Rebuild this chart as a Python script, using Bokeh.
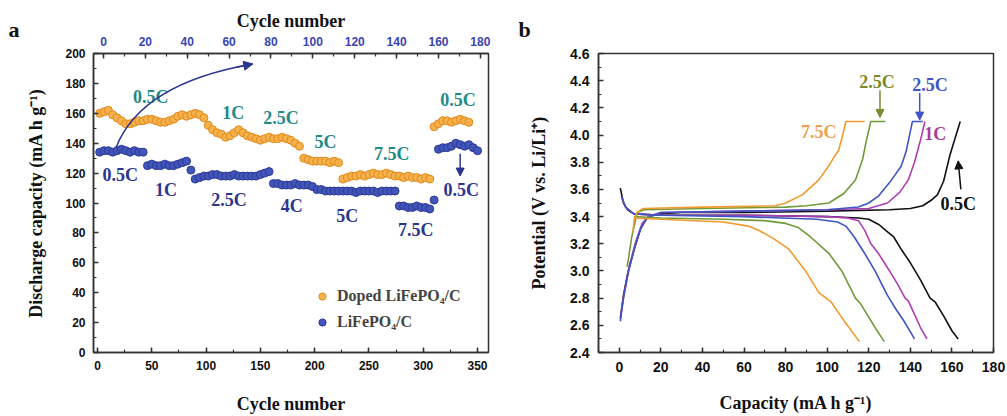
from bokeh.plotting import figure
from bokeh.layouts import row
from bokeh.models import (Range1d, LinearAxis, SingleIntervalTicker, FixedTicker, Arrow, NormalHead,
                          Legend, LegendItem, Title, NumeralTickFormatter)
from bokeh.core.properties import value
from bokeh.embed import file_html
from bokeh.resources import INLINE

SERIF = "Liberation Serif"
SANS = "Liberation Sans"

# ---------------- Panel a data (rate capability) ----------------
# points every 4 units of the bottom "Cycle number" axis, starting at 2
doped_y = [160, 161, 162, 159, 157, 155, 153, 153, 154, 155,
           155, 156, 156, 155, 154, 154, 155, 156, 158, 159,
           158, 159, 160, 159, 157, 152, 149, 147, 146, 144,
           145, 147, 149, 147, 145, 144, 143, 142, 143, 144,
           143, 143, 144, 143, 142, 140, 138,
           130, 129, 128, 128, 128, 128, 127, 128, 127,
           116, 117, 118, 118, 119, 118, 119, 120, 119, 119,
           120, 119, 118, 118, 117, 118, 117, 117, 116, 117, 116,
           151, 153, 155, 155, 154, 155, 156, 155, 154]
plain_y = [134, 135, 135, 134, 135, 136, 135, 134, 135, 134, 134,
           125, 126, 125, 125, 126, 125, 125, 126, 127, 128, 122,
           116, 117, 118, 118, 119, 119, 118, 118, 118, 119, 118, 118, 118, 118, 118, 119, 120, 121,
           113, 113, 112, 112, 112, 113, 112, 112, 112, 111,
           109, 109, 108, 108, 108, 108, 108, 108, 108, 107, 108, 108, 108, 108, 107, 108, 108, 108, 108,
           98, 98, 97, 97, 98, 97, 97, 96, 102,
           136, 137, 137, 138, 140, 139, 138, 139, 137, 135]
doped_x = list(range(2, 2 + 4 * len(doped_y), 4))
plain_x = list(range(2, 2 + 4 * len(plain_y), 4))

teal_labels = ["0.5C", "1C", "2.5C", "5C", "7.5C", "0.5C"]
teal_x = [49, 125, 169, 210, 271, 332]
teal_y = [171, 160, 157, 141, 133, 169]
navy_labels = ["0.5C", "1C", "2.5C", "4C", "5C", "7.5C", "0.5C"]
navy_x = [21, 63, 121, 179, 230, 293, 335]
navy_y = [119, 109, 102, 98, 91, 82, 109]

# ---------------- Panel b data (charge/discharge curves) ----------------
ch05_x = [0.5, 2, 4, 7, 10, 13, 18, 30, 60, 100, 130, 140, 146, 150, 153, 156, 159, 161, 164]
ch05_y = [2.65, 2.82, 2.98, 3.15, 3.30, 3.39, 3.42, 3.43, 3.43, 3.44, 3.45, 3.46, 3.48, 3.52, 3.56, 3.66, 3.85, 3.95, 4.10]
dis05_x = [0.5, 2, 4, 7, 20, 60, 100, 115, 120, 125, 128, 132, 136, 140, 145, 149.5, 152, 156, 160, 163]
dis05_y = [3.61, 3.50, 3.45, 3.42, 3.41, 3.41, 3.40, 3.39, 3.38, 3.34, 3.30, 3.25, 3.15, 3.06, 2.93, 2.80, 2.77, 2.67, 2.56, 2.50]

ch1_x = [0.8, 2.5, 5, 8, 11, 14, 20, 60, 100, 120, 129, 135, 139, 142, 145, 147]
ch1_y = [2.68, 2.85, 3.05, 3.22, 3.35, 3.40, 3.43, 3.44, 3.45, 3.46, 3.50, 3.58, 3.67, 3.80, 3.97, 4.10]
dis1_x = [1, 3, 7, 20, 60, 100, 110, 115, 118, 121, 124.6, 130, 134, 137.5, 139, 142, 145, 148]
dis1_y = [3.55, 3.47, 3.42, 3.41, 3.41, 3.40, 3.39, 3.37, 3.30, 3.20, 3.13, 3.00, 2.90, 2.80, 2.78, 2.68, 2.58, 2.50]

ch25b_x = [0.5, 2, 4.5, 7.5, 10.5, 13.5, 20, 60, 100, 115, 120, 124.6, 130, 135.6, 138, 141, 146]
ch25b_y = [2.63, 2.80, 3.00, 3.18, 3.32, 3.39, 3.43, 3.44, 3.45, 3.47, 3.50, 3.55, 3.65, 3.77, 3.88, 4.10, 4.10]
dis25b_x = [1, 3, 7, 20, 60, 95, 105, 109, 113, 118, 123, 129, 133, 137, 142]
dis25b_y = [3.55, 3.47, 3.42, 3.41, 3.40, 3.38, 3.36, 3.33, 3.25, 3.13, 3.00, 2.82, 2.72, 2.63, 2.50]

ch25g_x = [3.8, 6, 8.6, 12, 40, 80, 90, 100.8, 108, 113.6, 117, 119, 121, 128]
ch25g_y = [3.03, 3.25, 3.43, 3.45, 3.46, 3.47, 3.48, 3.50, 3.57, 3.67, 3.82, 3.97, 4.10, 4.10]
dis25g_x = [7, 20, 50, 70, 80, 86, 92, 100.8, 107, 113.6, 116, 120, 124, 127.5]
dis25g_y = [3.40, 3.39, 3.38, 3.37, 3.35, 3.32, 3.25, 3.13, 3.00, 2.80, 2.76, 2.66, 2.56, 2.48]

ch75_x = [6.5, 7.2, 8.5, 11.5, 40, 75, 80, 88, 96, 101, 105.5, 107.5, 109, 118]
ch75_y = [3.28, 3.38, 3.43, 3.46, 3.47, 3.48, 3.50, 3.56, 3.67, 3.78, 3.89, 4.00, 4.10, 4.10]
dis75_x = [7, 20, 50, 62, 67, 74, 81.6, 89.6, 96, 102, 108.7, 115.5]
dis75_y = [3.39, 3.38, 3.36, 3.33, 3.30, 3.24, 3.16, 3.00, 2.84, 2.77, 2.62, 2.48]

rate_labels = ["7.5C", "2.5C", "2.5C", "1C", "0.5C"]
rate_x = [96, 124, 149.5, 152, 163]
rate_y = [4.025, 4.39, 4.37, 4.01, 3.49]

potential_ticks = [2.4, 2.6, 2.8, 3.0, 3.2, 3.4, 3.6, 3.8, 4.0, 4.2, 4.4, 4.6]
potential_minor = [2.5, 2.7, 2.9, 3.1, 3.3, 3.5, 3.7, 3.9, 4.1, 4.3, 4.5]

panel_letters = ["a", "b"]

C_ORANGE = "#f29a2e"
C_GREEN = "#6f9a3a"
C_BLUE = "#3f55c4"
C_MAG = "#b03cb4"
C_BLACK = "#111111"
rate_colors = ["#f0a04b", "#7b8a2e", C_BLUE, "#a83c9c", C_BLACK]

TEAL = "#1d8b86"
NAVY = "#2b3590"


def style_axis(ax, size, color="#111111"):
    ax.major_label_text_font = SANS
    ax.major_label_text_font_style = "bold"
    ax.major_label_text_font_size = size
    ax.major_label_text_color = color
    ax.axis_label_text_font = SERIF
    ax.axis_label_text_font_style = "bold"
    ax.axis_label_text_font_size = "18px"
    ax.axis_label_text_color = "#111111"
    ax.major_tick_in = 5
    ax.major_tick_out = 0
    ax.minor_tick_in = 3
    ax.minor_tick_out = 0
    ax.axis_line_color = "#333333"
    ax.axis_line_width = 1.5
    ax.major_tick_line_color = "#333333"
    ax.minor_tick_line_color = "#333333"
    ax.major_tick_line_width = 1.5
    ax.minor_tick_line_width = 1.2


def panel_title(letter, offset):
    return Title(text=letter, align="left", offset=offset, standoff=23,
                 text_font=SERIF, text_font_style="bold", text_font_size="22px",
                 text_color="#111111")


# ---------------- narrow strip carrying the panel letter "a" ----------------
pa = figure(width=22, height=416, x_range=Range1d(0, 1), y_range=Range1d(0, 1),
            output_backend="svg", toolbar_location=None,
            min_border_left=0, min_border_right=0, min_border_top=53, min_border_bottom=63)
pa.axis.visible = False
pa.xgrid.visible = False
pa.ygrid.visible = False
pa.outline_line_color = None
pa.add_layout(panel_title(panel_letters[0], 8), "above")

# ---------------- Panel a ----------------
p1 = figure(width=488, height=416, x_range=Range1d(-3.7, 360.1), y_range=Range1d(0, 200),
            output_backend="svg", toolbar_location=None,
            min_border_left=71, min_border_right=22, min_border_top=53, min_border_bottom=63)
p1.xgrid.visible = False
p1.ygrid.visible = False
p1.outline_line_color = "#333333"
p1.outline_line_width = 1.5
p1.xaxis.ticker = SingleIntervalTicker(interval=50, num_minor_ticks=2)
p1.yaxis.ticker = SingleIntervalTicker(interval=20, num_minor_ticks=2)
p1.xaxis.axis_label = "Cycle number"
p1.yaxis.axis_label = "Discharge capacity (mA h g\u207b\u00b9)"
for ax in p1.xaxis + p1.yaxis:
    style_axis(ax, "12px")
p1.xaxis.major_label_standoff = 8
p1.xaxis.axis_label_standoff = 21
p1.yaxis.major_label_standoff = 8
p1.yaxis.axis_label_standoff = 16

p1.extra_x_ranges = {"top": Range1d(-4.78, 183.9)}
top_ax = LinearAxis(x_range_name="top", ticker=SingleIntervalTicker(interval=20, num_minor_ticks=2),
                    axis_label="Cycle number")
style_axis(top_ax, "12px", "#3a45b5")
top_ax.major_label_standoff = 8
top_ax.axis_label_standoff = 3
p1.add_layout(top_ax, "above")

r_or = p1.scatter(doped_x, doped_y, size=8, marker="circle", fill_color="#f6b24a",
                  line_color="#e3891c", line_width=1)
r_bl = p1.scatter(plain_x, plain_y, size=8, marker="circle", fill_color="#4255b8",
                  line_color="#2c3a99", line_width=1)

p1.text(x=teal_x, y=teal_y, text=teal_labels, text_color=TEAL, text_font=value(SERIF),
        text_font_style="bold", text_font_size="18px", text_align="center", text_baseline="middle")
p1.text(x=navy_x, y=navy_y, text=navy_labels, text_color=NAVY, text_font=value(SERIF),
        text_font_style="bold", text_font_size="18px", text_align="center", text_baseline="middle")

p1.quadratic(x0=[17], y0=[137], x1=[143], y1=[193], cx=[40], cy=[180], line_color=NAVY, line_width=1.5)
p1.add_layout(Arrow(end=NormalHead(size=9, fill_color=NAVY, line_color=NAVY),
                    x_start=128, y_start=190.8, x_end=143, y_end=193, line_color=NAVY, line_width=1.5))
p1.add_layout(Arrow(end=NormalHead(size=8, fill_color=NAVY, line_color=NAVY),
                    x_start=334, y_start=133, x_end=334, y_end=118, line_color=NAVY, line_width=1.5))

legend = Legend(items=[LegendItem(label="Doped LiFePO\u2084/C", renderers=[r_or]),
                       LegendItem(label="LiFePO\u2084/C", renderers=[r_bl])],
                location=(220, 20), padding=0, margin=0, spacing=6,
                glyph_width=18, glyph_height=20, label_height=20, label_standoff=6,
                label_text_font=SERIF, label_text_font_style="bold", label_text_font_size="16px",
                border_line_color=None, background_fill_alpha=0)
p1.add_layout(legend)

# ---------------- Panel b ----------------
p2 = figure(width=497, height=416, x_range=Range1d(-10, 180), y_range=Range1d(2.4, 4.6),
            output_backend="svg", toolbar_location=None,
            min_border_left=88, min_border_right=14, min_border_top=53, min_border_bottom=63)
p2.xgrid.visible = False
p2.ygrid.visible = False
p2.outline_line_color = "#333333"
p2.outline_line_width = 1.5
p2.xaxis.ticker = SingleIntervalTicker(interval=20, num_minor_ticks=2)
p2.yaxis.ticker = FixedTicker(ticks=potential_ticks, minor_ticks=potential_minor)
p2.yaxis.formatter = NumeralTickFormatter(format="0.0")
p2.xaxis.axis_label = "Capacity (mA h g\u207b\u00b9)"
p2.yaxis.axis_label = "Potential (V vs. Li/Li\u207a)"
for ax in p2.xaxis + p2.yaxis:
    style_axis(ax, "14px")
p2.xaxis.major_label_standoff = 9
p2.xaxis.axis_label_standoff = 18
p2.yaxis.major_label_standoff = 9
p2.yaxis.axis_label_standoff = 18

curves = [(ch05_x, ch05_y, C_BLACK), (dis05_x, dis05_y, C_BLACK),
          (ch1_x, ch1_y, C_MAG), (dis1_x, dis1_y, C_MAG),
          (ch25b_x, ch25b_y, C_BLUE), (dis25b_x, dis25b_y, C_BLUE),
          (ch25g_x, ch25g_y, C_GREEN), (dis25g_x, dis25g_y, C_GREEN),
          (ch75_x, ch75_y, C_ORANGE), (dis75_x, dis75_y, C_ORANGE)]
for cx, cy, col in curves:
    p2.line(cx, cy, line_color=col, line_width=1.6)

p2.text(x=rate_x, y=rate_y, text=rate_labels, text_color=rate_colors, text_font=value(SERIF),
        text_font_style="bold", text_font_size="18px", text_align="center", text_baseline="middle")
for xs, ys, xe, ye, col in [(125.4, 4.33, 125.4, 4.13, "#7b8a2e"),
                            (144.5, 4.31, 144.5, 4.11, C_BLUE),
                            (164.3, 3.60, 163.0, 3.81, C_BLACK)]:
    p2.add_layout(Arrow(end=NormalHead(size=8, fill_color=col, line_color=col),
                        x_start=xs, y_start=ys, x_end=xe, y_end=ye, line_color=col, line_width=1.5))
p2.add_layout(panel_title(panel_letters[1], -80), "above")

layout = row(pa, p1, p2)
open("out.html", "w").write(file_html(layout, INLINE))
